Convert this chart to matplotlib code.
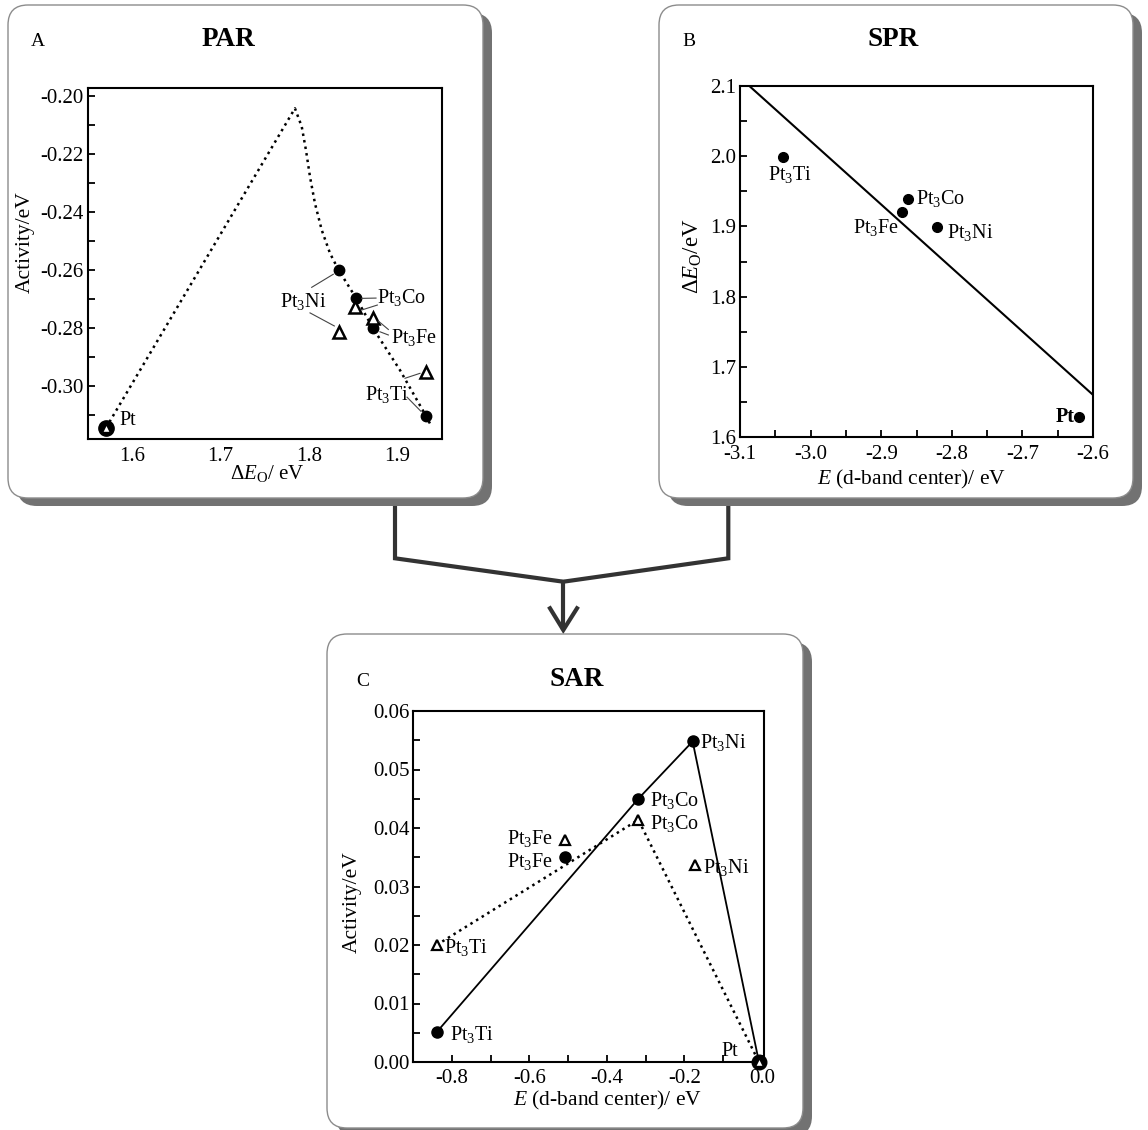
import numpy as np
import matplotlib
matplotlib.use('Agg')
import matplotlib.pyplot as plt
from matplotlib.patches import FancyBboxPatch
from matplotlib.ticker import MultipleLocator, FixedLocator, FormatStrFormatter

plt.rcParams['font.family'] = 'serif'
plt.rcParams['font.serif'] = ['Liberation Serif', 'DejaVu Serif']
plt.rcParams['mathtext.fontset'] = 'custom'
plt.rcParams['mathtext.rm'] = 'Liberation Serif'
plt.rcParams['mathtext.it'] = 'Liberation Serif:italic'
plt.rcParams['mathtext.bf'] = 'Liberation Serif:bold'
plt.rcParams['axes.unicode_minus'] = False

## the data
# order: Pt, Pt3Ni, Pt3Co, Pt3Fe, Pt3Ti
par_x_circ = [1.570, 1.834, 1.854, 1.873, 1.933]
par_y_circ = [-0.3143, -0.2601, -0.2698, -0.2801, -0.3102]
par_x_tri = [1.570, 1.834, 1.853, 1.873, 1.933]
par_y_tri = [-0.3143, -0.2813, -0.2729, -0.2767, -0.2951]
# volcano (dotted)
par_curve_x = [1.570, 1.7844, 1.7921, 1.7969, 1.8015, 1.8071, 1.8148, 1.8242,
               1.834, 1.854, 1.873, 1.9036, 1.933, 1.938]
par_curve_y = [-0.3143, -0.2044, -0.2107, -0.2188, -0.2280, -0.2371, -0.2463, -0.2543,
               -0.2601, -0.2698, -0.2801, -0.2945, -0.3102, -0.3131]
par_xticks = [1.6, 1.7, 1.8, 1.9]

# order: Pt3Ti, Pt3Co, Pt3Fe, Pt3Ni, Pt
spr_x = [-3.0385, -2.862, -2.870, -2.821, -2.6195]
spr_y = [1.999, 1.939, 1.920, 1.899, 1.628]
spr_fit_x = [-3.1, -2.6]
spr_fit_y = [2.112, 1.660]

# order: Pt3Ti, Pt3Fe, Pt3Co, Pt3Ni, Pt
sar_x_circ = [-0.839, -0.508, -0.319, -0.179, -0.008]
sar_y_circ = [0.0051, 0.0350, 0.0450, 0.0548, 0.0]
sar_x_tri = [-0.839, -0.508, -0.319, -0.173, -0.008]
sar_y_tri = [0.0200, 0.0379, 0.0414, 0.0337, 0.0]
sar_solid = [0, 2, 3, 4]     # Ti -> Co -> Ni -> Pt
sar_dotted = [0, 2, 4]       # Ti -> Co -> Pt
sar_xticks = [-0.8, -0.6, -0.4, -0.2, 0.0]
sar_xticklabels = ['-0.8', '-0.6', '-0.4', '-0.2', '0.0']

W, H = 1148, 1130
fig = plt.figure(figsize=(W / 100, H / 100), dpi=100)

# background layer in pixel coords: boxes + arrows
bg = fig.add_axes([0, 0, 1, 1], zorder=0)
bg.set_xlim(0, W)
bg.set_ylim(H, 0)
bg.axis('off')


def panel_box(x0, y0, x1, y1):
    st = "round,pad=0,rounding_size=20"
    bg.add_patch(FancyBboxPatch((x0 + 9, y0 + 8), x1 - x0, y1 - y0, boxstyle=st,
                                fc='#727272', ec='none', zorder=1))
    bg.add_patch(FancyBboxPatch((x0, y0), x1 - x0, y1 - y0, boxstyle=st,
                                fc='white', ec='#8c8c8c', lw=1, zorder=2))


panel_box(8, 5, 483, 498)
panel_box(659, 5, 1133, 498)
panel_box(327, 634, 803, 1128)

# connector arrow
ac = '#333333'
bg.plot([395, 395, 563.3, 728.3, 728.3], [500, 558.3, 581.7, 558.3, 500],
        color=ac, lw=3, solid_joinstyle='miter', zorder=0.5)
bg.plot([563.3, 563.3], [581.7, 628], color=ac, lw=3, zorder=0.5)
bg.plot([550, 563.3, 577], [608.3, 630, 608.3], color=ac, lw=3,
        solid_joinstyle='miter', zorder=0.5)

# panel letters / titles
tfs = 19.5
bg.text(38, 42, 'A', fontsize=14, ha='center', va='center', zorder=3)
bg.text(228, 40, 'PAR', fontsize=tfs, weight='bold', ha='center', va='center', zorder=3)
bg.text(689, 42, 'B', fontsize=14, ha='center', va='center', zorder=3)
bg.text(893, 40, 'SPR', fontsize=tfs, weight='bold', ha='center', va='center', zorder=3)
bg.text(363, 682, 'C', fontsize=14, ha='center', va='center', zorder=3)
bg.text(577, 680, 'SAR', fontsize=tfs, weight='bold', ha='center', va='center', zorder=3)


def px_axes(l, t, r, b):
    return fig.add_axes([l / W, 1 - b / H, (r - l) / W, (b - t) / H], zorder=4)


def style(ax, xpad=7, ypad=3):
    for s in ax.spines.values():
        s.set_linewidth(1.5)
    ax.tick_params(which='both', direction='in', top=False, right=False,
                   width=1.3, length=5, labelsize=15)
    ax.tick_params(axis='x', which='both', pad=xpad)
    ax.tick_params(axis='y', which='both', pad=ypad)


fs = 14.5
lfs = 15.5
lead = dict(color='#444444', lw=0.8)

######## A: PAR
ax = px_axes(88, 88, 442, 439)
style(ax, xpad=6)
ax.set_xlim(1.5495, 1.9513)
ax.set_ylim(-0.3182, -0.1974)
ax.xaxis.set_major_locator(FixedLocator(par_xticks))
ax.xaxis.set_major_formatter(FormatStrFormatter('%.1f'))
ax.tick_params(axis='x', which='both', length=0)
ax.yaxis.set_major_locator(MultipleLocator(0.02))
ax.yaxis.set_minor_locator(MultipleLocator(0.01))
ax.yaxis.set_major_formatter(FormatStrFormatter('%.2f'))

ax.plot(par_curve_x, par_curve_y, ls=':', color='black', lw=1.8)
ax.plot(par_x_circ, par_y_circ, 'o', color='black', ms=7.5, ls='none')
ax.plot(par_x_tri[1:], par_y_tri[1:], '^', mfc='white', mec='black', mew=1.8, ms=9, ls='none')
ax.plot(par_x_circ[0], par_y_circ[0], 'o', color='black', ms=11)
ax.plot(par_x_tri[0], par_y_tri[0], '^', mfc='white', mec='black', mew=1, ms=6)

ax.text(1.5850, -0.3134, 'Pt', fontsize=fs, ha='left', va='baseline')
ax.text(1.7939, -0.2727, 'Pt$_3$Ni', fontsize=fs, ha='center', va='baseline')
ax.plot([1.8034, 1.8279], [-0.2660, -0.2615], **lead)
ax.plot([1.8015, 1.8291], [-0.2748, -0.2793], **lead)
ax.text(1.8779, -0.2715, 'Pt$_3$Co', fontsize=fs, ha='left', va='baseline')
ax.plot([1.8602, 1.8764], [-0.2698, -0.2697], **lead)
ax.plot([1.8602, 1.8779], [-0.2738, -0.2721], **lead)
ax.text(1.8931, -0.2853, 'Pt$_3$Fe', fontsize=fs, ha='left', va='baseline')
ax.plot([1.8790, 1.8904], [-0.2776, -0.2805], **lead)
ax.plot([1.8809, 1.8904], [-0.2813, -0.2824], **lead)
ax.text(1.8885, -0.3048, 'Pt$_3$Ti', fontsize=fs, ha='center', va='baseline')
ax.plot([1.9093, 1.9263], [-0.2973, -0.2956], **lead)
ax.plot([1.9116, 1.9275], [-0.3038, -0.3087], **lead)

ax.set_xlabel(r'$\Delta E_{\mathrm{O}}$/ eV', fontsize=15)
ax.set_ylabel('Activity/eV', fontsize=lfs)
ax.xaxis.set_label_coords(0.505, -0.098)
ax.yaxis.set_label_coords(-0.178, 0.56)
ax.xaxis.label.set_va('center')
ax.yaxis.label.set_va('center')

######## B: SPR
ax = px_axes(740, 86, 1093, 437)
style(ax, xpad=6)
ax.set_xlim(-3.1, -2.6)
ax.set_ylim(1.6, 2.1)
ax.xaxis.set_major_locator(MultipleLocator(0.1))
ax.xaxis.set_minor_locator(MultipleLocator(0.05))
ax.xaxis.set_major_formatter(FormatStrFormatter('%.1f'))
ax.yaxis.set_major_locator(MultipleLocator(0.1))
ax.yaxis.set_minor_locator(MultipleLocator(0.05))
ax.yaxis.set_major_formatter(FormatStrFormatter('%.1f'))

ax.plot(spr_fit_x, spr_fit_y, color='black', lw=1.5)
ax.plot(spr_x, spr_y, 'o', color='black', ms=7, ls='none')
ax.text(-3.029, 1.9661, 'Pt$_3$Ti', fontsize=fs, ha='center', va='baseline')
ax.text(-2.8504, 1.9319, 'Pt$_3$Co', fontsize=fs, ha='left', va='baseline')
ax.text(-2.8751, 1.8902, 'Pt$_3$Fe', fontsize=fs, ha='right', va='baseline')
ax.text(-2.8074, 1.8830, 'Pt$_3$Ni', fontsize=fs, ha='left', va='baseline')
ax.text(-2.6266, 1.6218, 'Pt', fontsize=fs, weight='bold', ha='right', va='baseline')

ax.set_xlabel(r'$E$ (d-band center)/ eV', fontsize=lfs)
ax.set_ylabel(r'$\Delta E_{\mathrm{O}}$/eV', fontsize=16.5)
ax.xaxis.set_label_coords(0.487, -0.12)
ax.yaxis.set_label_coords(-0.133, 0.516)
ax.xaxis.label.set_va('center')
ax.yaxis.label.set_va('center')

######## C: SAR
ax = px_axes(413, 711, 764, 1062)
style(ax, xpad=5, ypad=2.5)
ax.set_xlim(-0.9, 0.005)
ax.set_ylim(0, 0.06)
ax.xaxis.set_major_locator(FixedLocator(sar_xticks))
ax.set_xticklabels(sar_xticklabels)
ax.xaxis.set_minor_locator(MultipleLocator(0.1))
ax.yaxis.set_major_locator(MultipleLocator(0.01))
ax.yaxis.set_minor_locator(MultipleLocator(0.005))
ax.yaxis.set_major_formatter(FormatStrFormatter('%.2f'))

ax.plot([sar_x_circ[i] for i in sar_solid], [sar_y_circ[i] for i in sar_solid],
        color='black', lw=1.3, clip_on=False)
ax.plot([sar_x_tri[i] for i in sar_dotted], [sar_y_tri[i] for i in sar_dotted],
        ls=':', color='black', lw=1.8, clip_on=False)
ax.plot(sar_x_circ[:4], sar_y_circ[:4], 'o', color='black', ms=8, ls='none')
ax.plot(sar_x_tri[:4], sar_y_tri[:4], '^', mfc='white', mec='black', mew=1.6, ms=7.5, ls='none')
ax.plot(sar_x_circ[4], sar_y_circ[4], 'o', color='black', ms=10.5, clip_on=False, zorder=5)
ax.plot(sar_x_tri[4], sar_y_tri[4], '^', mfc='white', mec='black', mew=1, ms=5.5,
        clip_on=False, zorder=6)

ax.text(-0.160, 0.0537, 'Pt$_3$Ni', fontsize=fs, ha='left', va='baseline')
ax.text(-0.2889, 0.0437, 'Pt$_3$Co', fontsize=fs, ha='left', va='baseline')
ax.text(-0.2889, 0.0398, 'Pt$_3$Co', fontsize=fs, ha='left', va='baseline')
ax.text(-0.5381, 0.0373, 'Pt$_3$Fe', fontsize=fs, ha='right', va='baseline')
ax.text(-0.5381, 0.0334, 'Pt$_3$Fe', fontsize=fs, ha='right', va='baseline')
ax.text(-0.1515, 0.0323, 'Pt$_3$Ni', fontsize=fs, ha='left', va='baseline')
ax.text(-0.8198, 0.01855, 'Pt$_3$Ti', fontsize=fs, ha='left', va='baseline')
ax.text(-0.8044, 0.00369, 'Pt$_3$Ti', fontsize=fs, ha='left', va='baseline')
ax.text(-0.0613, 0.00111, 'Pt', fontsize=fs, ha='right', va='baseline')

ax.set_xlabel(r'$E$ (d-band center)/ eV', fontsize=lfs)
ax.set_ylabel('Activity/eV', fontsize=lfs)
ax.xaxis.set_label_coords(0.553, -0.111)
ax.yaxis.set_label_coords(-0.174, 0.455)
ax.xaxis.label.set_va('center')
ax.yaxis.label.set_va('center')

fig.savefig('out.png', dpi=100)
